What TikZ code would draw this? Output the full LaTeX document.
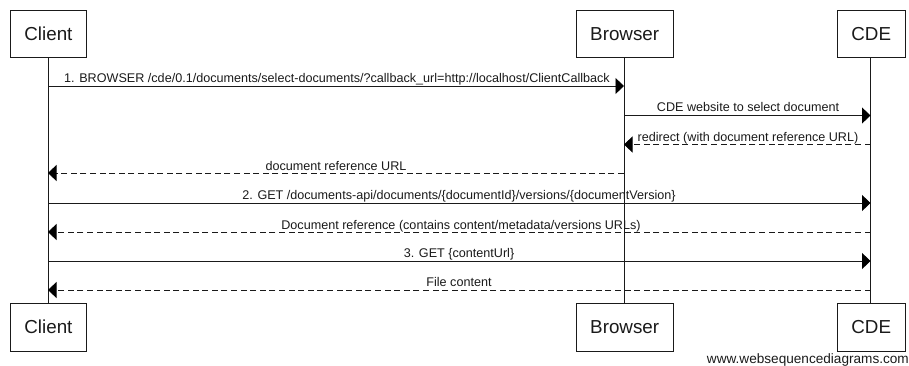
\documentclass[tikz,border=0pt]{standalone}
\usepackage{fontspec}
\setmainfont{Liberation Sans}
\usetikzlibrary{arrows.meta}
\definecolor{ink}{HTML}{1A1A1A}
\tikzset{
  x=1pt,y=-1pt,
  actor/.style={draw=ink,line width=0.9pt,fill=white,anchor=north west,inner sep=0pt,font=\fontsize{18.8}{20}\selectfont,text=ink},
  life/.style={draw=ink,line width=0.9pt},
  msg/.style={draw=ink,line width=0.9pt,-{Triangle[length=8.5pt,width=16pt,color=black]}},
  reply/.style={msg,dash pattern=on 6pt off 3.6pt},
  lbl/.style={font=\fontsize{12.6}{14}\selectfont,text=ink,anchor=base,inner sep=0pt},
}
\begin{document}
\begin{tikzpicture}
\useasboundingbox (0,0) rectangle (909,365);
% lifeline ends
\coordinate (ct) at (48,57);    \coordinate (cb) at (48,303);
\coordinate (bt) at (624,57);   \coordinate (bb) at (624,303);
\coordinate (dt) at (870.5,57); \coordinate (db) at (870.5,303);
\draw[life] (ct) -- (cb);
\draw[life] (bt) -- (bb);
\draw[life] (dt) -- (db);
% heads
\node[actor,minimum width=76pt,minimum height=47.5pt] (client) at (10,9.5) {Client};
\node[actor,minimum width=97.5pt,minimum height=47.5pt] (browser) at (575.5,9.5) {Browser};
\node[actor,minimum width=67.5pt,minimum height=47.5pt] (cde) at (837,9.5) {CDE};
\node[actor,minimum width=76pt,minimum height=47.5pt] (client2) at (10,303) {Client};
\node[actor,minimum width=97.5pt,minimum height=47.5pt] (browser2) at (575.5,303) {Browser};
\node[actor,minimum width=67.5pt,minimum height=47.5pt] (cde2) at (837,303) {CDE};
% message rows
\foreach \n/\y in {1/86,2/115.5,3/144.5,4/173,5/203,6/232,7/261,8/290}{
  \coordinate (c\n) at (48,\y);
  \coordinate (b\n) at (624,\y);
  \coordinate (d\n) at (870.5,\y);
}
\draw[msg] (c1) -- (b1);
\draw[msg] (b2) -- (d2);
\draw[reply] (d3) -- (b3);
\draw[reply] (b4) -- (c4);
\draw[msg] (c5) -- (d5);
\draw[reply] (d6) -- (c6);
\draw[msg] (c7) -- (d7);
\draw[reply] (d8) -- (c8);
% labels
\node[lbl] (m1) at (337,82.5) {1. BROWSER /cde/0.1/documents/select-documents/?callback\_url=http://localhost/ClientCallback};
\node[lbl] (m2) at (748,111) {CDE website to select document};
\node[lbl] (m3) at (748,141) {redirect (with document reference URL)};
\node[lbl] (m4) at (336,170) {document reference URL};
\node[lbl] (m5) at (459,199) {2. GET /documents-api/documents/\{documentId\}/versions/\{documentVersion\}};
\node[lbl] (m6) at (461,229) {Document reference (contains content/metadata/versions URLs)};
\node[lbl] (m7) at (459,257.5) {3. GET \{contentUrl\}};
\node[lbl] (m8) at (459,286.5) {File content};
\node[font=\fontsize{13.6}{15}\selectfont,text=ink,anchor=base east,inner sep=0pt] (wm) at (909,363) {www.websequencediagrams.com};
\end{tikzpicture}
\end{document}
